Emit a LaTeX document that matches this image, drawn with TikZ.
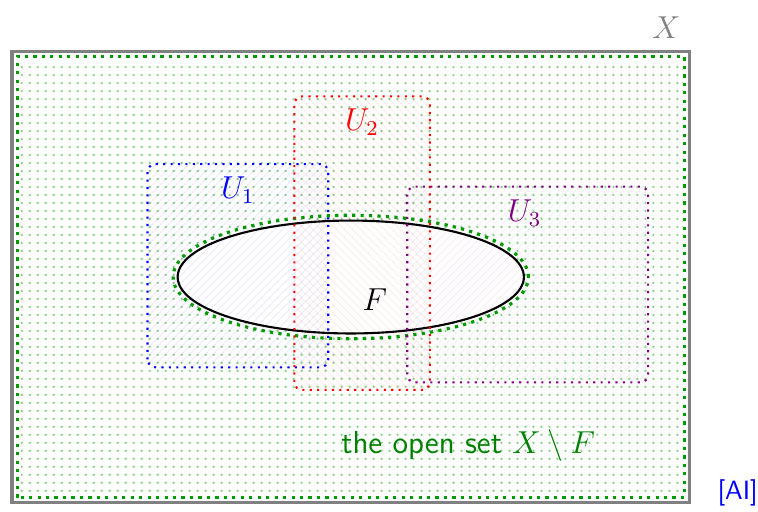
\documentclass[tikz,border=0pt]{standalone}
\usepackage{tikz}
\usetikzlibrary{patterns}
\begin{document}
\begin{tikzpicture}[
    spaceX/.style={draw=gray, very thick},
    openset/.style={draw=green!60!black, line width=1.2pt, dotted},
    grain/.style={fill=green!60!black!45},
    cover/.style={thick, dotted, rounded corners=3pt},
    hatch/.style={opacity=0.07},
    setlabel/.style={font=\large},
  ]
  \useasboundingbox (-0.16,-0.12) rectangle (9.91,6.68);

  % the space X and the open set X minus F, dotted all over
  \foreach \i in {0,...,82}
    \foreach \j in {0,...,53}
      \fill[grain] (0.13+\i*0.1062, 0.16+\j*0.1062) circle (0.5pt);
  \fill[white] (4.5,3) ellipse (2.3 and 0.75);

  % the open cover, lightly hatched
  \fill[hatch, pattern=north east lines, pattern color=blue] (1.8,1.8) rectangle (4.2,4.5);
  \fill[hatch, pattern=north west lines, pattern color=red] (3.75,1.5) rectangle (5.55,5.4);
  \fill[hatch, pattern=north east lines, pattern color=violet!60!gray] (5.25,1.6) rectangle (8.45,4.2);

  % closed set F
  \draw[thick] (4.5,3) ellipse (2.3 and 0.75);
  \draw[openset] (4.5,3) ellipse (2.36 and 0.82);

  \draw[cover, blue] (1.8,1.8) rectangle (4.2,4.5);
  \draw[cover, red] (3.75,1.5) rectangle (5.55,5.4);
  \draw[cover, violet] (5.25,1.6) rectangle (8.45,4.2);

  \draw[spaceX] (0,0) rectangle (9,6);
  \draw[openset] (0.07,0.07) rectangle (8.93,5.93);

  % labels
  \node[setlabel, text=gray] (labelX) at (8.69,6.31) {$X$};
  \node[setlabel, text=blue] (labelU1) at (3,4.15) {$U_1$};
  \node[setlabel, text=red] (labelU2) at (4.65,5.06) {$U_2$};
  \node[setlabel, text=violet] (labelU3) at (6.81,3.85) {$U_3$};
  \node[setlabel] (labelF) at (4.82,2.7) {$F$};
  \node[text=green!50!black, font=\large\sffamily] (labelopen) at (6.06,0.76) {the open set $X\setminus F$};
  \node[text=blue, font=\sffamily] (labelAI) at (9.64,0.13) {[AI]};
\end{tikzpicture}
\end{document}
